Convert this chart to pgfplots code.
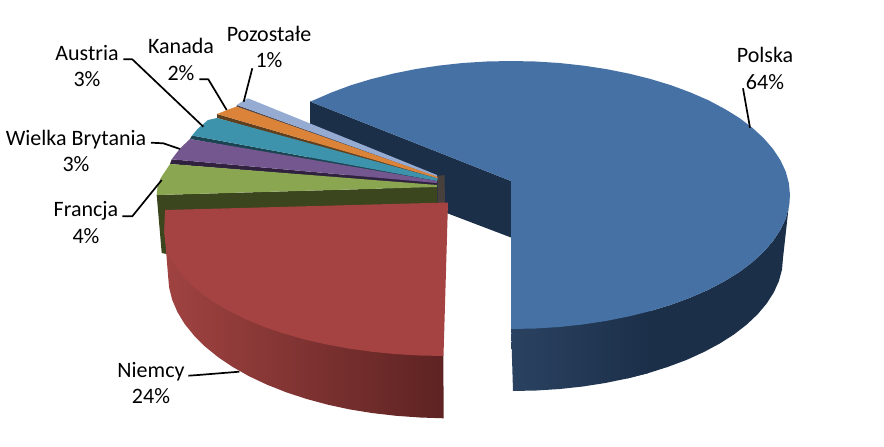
\documentclass[border=0pt]{standalone}
\usepackage{pgfplots}
\usepackage{fontspec}
\setmainfont{Carlito}
\pgfplotsset{compat=1.18}

\definecolor{blueface}{HTML}{4571A4}
\definecolor{bluewall}{HTML}{1C2F49}
\definecolor{bluelight}{HTML}{2A4261}
\definecolor{redface}{HTML}{A44341}
\definecolor{redleft}{HTML}{A04341}
\definecolor{redright}{HTML}{5D2322}
\definecolor{greenface}{HTML}{8AA650}
\definecolor{greenwall}{HTML}{3B451E}
\definecolor{purpleface}{HTML}{75578F}
\definecolor{purplewall}{HTML}{30223F}
\definecolor{tealface}{HTML}{3D93AC}
\definecolor{tealwall}{HTML}{1B4452}
\definecolor{orangeface}{HTML}{DA8339}
\definecolor{orangewall}{HTML}{5F3F1E}
\definecolor{paleface}{HTML}{95ABD1}
\definecolor{palewall}{HTML}{474650}
\definecolor{core}{HTML}{47403C}

\newcommand{\lab}[4]{%
  \node[anchor=base,inner sep=0pt] at (axis cs:#1,#2) {\fontsize{22}{26}\selectfont #3};
  \node[anchor=base,inner sep=0pt] at (axis cs:#1,#2+26.7) {\fontsize{22}{26}\selectfont #4};
}

\begin{document}
\begin{tikzpicture}
\begin{axis}[
    scale only axis,
    width=884pt, height=447pt,
    xmin=0, xmax=884, ymin=0, ymax=447,
    y dir=reverse,
    hide axis,
    clip=false,
    no markers,
    leader/.style={black, line width=1.7pt, line join=round},
]
% keep the full picture area, hide axis does not count it
\path (rel axis cs:0,0) rectangle (rel axis cs:1,1);

% Polska: inner wall, outer wall, top face
\addplot[fill=bluewall, draw=none] coordinates {(310,101.5) (511,181) (511,237.5) (310,161)};
\addplot[fill=bluewall, draw=none] coordinates {
  (628.9,316.4) (650.5,311) (671,304.8) (690.3,297.6) (708.3,289.8) (724.7,281.1) (739.6,271.9) (752.6,262)
  (763.9,251.6) (773.2,240.8) (780.5,229.7) (785.8,218.3) (788.9,206.7) (790,195)
  (783,258) (782,269.6) (778.9,281.1) (773.8,292.4) (766.7,303.5) (757.7,314.2) (746.8,324.5)
  (734.2,334.3) (719.8,343.5) (703.9,352) (686.6,359.9) (667.9,366.9) (648,373.2) (627.1,378.5)};
\addplot[left color=bluelight, right color=bluewall, draw=none] coordinates {
  (511,325) (535.3,325) (559.4,323) (583.2,320) (606.4,317) (628.9,312) (650.5,307)
  (648,373.2) (627.1,378.5) (605.3,383) (582.9,386.5) (559.9,389) (536.5,390.5) (513,391)};
\addplot[fill=blueface, draw=none] coordinates {
  (310,101.5) (313.7,100.2) (331.7,92.4) (351,85.2) (371.5,79) (393.1,73.6) (415.6,69.1)
  (438.8,65.6) (462.6,63) (486.7,61.5) (511,61) (535.3,61.5) (559.4,63) (583.2,65.6)
  (606.4,69.1) (628.9,73.6) (650.5,79) (671,85.2) (690.3,92.4) (708.3,100.2) (724.7,108.9)
  (739.6,118.1) (752.6,128) (763.9,138.4) (773.2,149.2) (780.5,160.3) (785.8,171.7)
  (788.9,183.3) (790,195) (788.9,206.7) (785.8,218.3) (780.5,229.7) (773.2,240.8)
  (763.9,251.6) (752.6,262) (739.6,271.9) (724.7,281.1) (708.3,289.8) (690.3,297.6)
  (671,304.8) (650.5,311) (628.9,316.4) (606.4,320.9) (583.2,324.4) (559.4,327)
  (535.3,328.5) (511,329) (511,181)};

% Pozostale
\addplot[fill=palewall, draw=none] coordinates {(237,105) (437,177) (437,181) (236,108)};
\addplot[fill=paleface, draw=none] coordinates {(237,105) (242,101.5) (248,98.3) (437,175) (437,177)};
% Kanada
\addplot[fill=orangewall, draw=none] coordinates {(217,114) (438,178.5) (438,181) (217,118)};
\addplot[fill=orangeface, draw=none] coordinates {(217,114) (227,110) (236.7,106.5) (438,177) (438,178.5)};
% Austria
\addplot[fill=tealwall, draw=none] coordinates {(192,135.5) (437,181) (437,184) (190,139)};
\addplot[fill=tealface, draw=none] coordinates {(192,135.5) (198,128.5) (208,120) (217,118) (438,178.5) (437,181)};
% Wielka Brytania
\addplot[fill=purplewall, draw=none] coordinates {(171.7,159.3) (437,183) (437,186) (170,164)};
\addplot[fill=purpleface, draw=none] coordinates {(171.7,159.3) (180,148.5) (190,139) (437,181) (437,183)};
% Francja
\addplot[fill=greenwall, draw=none] coordinates {(156.7,195) (437,187) (437,222) (166.7,254) (161.7,253)};
\addplot[fill=greenface, draw=none] coordinates {(156.7,195) (157.5,187) (160.7,178) (170,164) (437,185) (437,187)};
% centre column
\addplot[fill=core, draw=none] coordinates {(437.5,176) (444.5,175) (445,204) (437.5,204)};

% Niemcy
\addplot[left color=redleft, right color=redright, draw=none] coordinates {
  (443.3,356) (443.7,418.3) (419.9,417.5) (396.1,415.8) (372.6,413.1) (349.6,409.4) (327.4,404.6)
  (306,398.8) (285.7,392.1) (266.6,384.5) (248.8,376.1) (232.6,366.9) (217.9,357) (205,346.5)
  (193.9,335.4) (184.6,323.9) (177.4,312) (172.2,299.8) (169.1,287.5) (168,275) (164.5,231)
  (300,300)};
\addplot[fill=redface, draw=none] coordinates {
  (448,202.5) (443.5,356) (419.6,355.5) (395.4,354.1) (371.5,351.7) (348.2,348.5) (325.7,344.3)
  (304,339.3) (283.4,333.4) (264,326.8) (246,319.4) (229.5,311.3) (214.6,302.7) (201.5,293.5)
  (190.2,283.8) (180.9,273.8) (173.5,263.4) (168.3,252.7) (165.1,241.9) (164.2,231) (165,210)};

% leader lines
\addplot[leader] coordinates {(743,88.3) (750,127.7)};
\addplot[leader] coordinates {(252.3,68.3) (243.7,101.7)};
\addplot[leader] coordinates {(199.3,79.3) (208.3,79.3) (226.7,110)};
\addplot[leader] coordinates {(123.3,59.3) (132.3,59.3) (203.3,126.7)};
\addplot[leader] coordinates {(151,142.7) (163.3,143.3) (180,149)};
\addplot[leader] coordinates {(122.3,216.3) (132.3,216.3) (161.7,180)};
\addplot[leader] coordinates {(188.3,375.7) (198.3,375) (239.3,371.7)};

% labels
\lab{765}{62.3}{Polska}{64\%}
\lab{269}{41}{Pozostałe}{1\%}
\lab{181}{53.3}{Kanada}{2\%}
\lab{87}{60}{Austria}{3\%}
\lab{76}{145}{Wielka Brytania}{3\%}
\lab{86}{216.7}{Francja}{4\%}
\lab{151}{377}{Niemcy}{24\%}
\end{axis}
\end{tikzpicture}
\end{document}
